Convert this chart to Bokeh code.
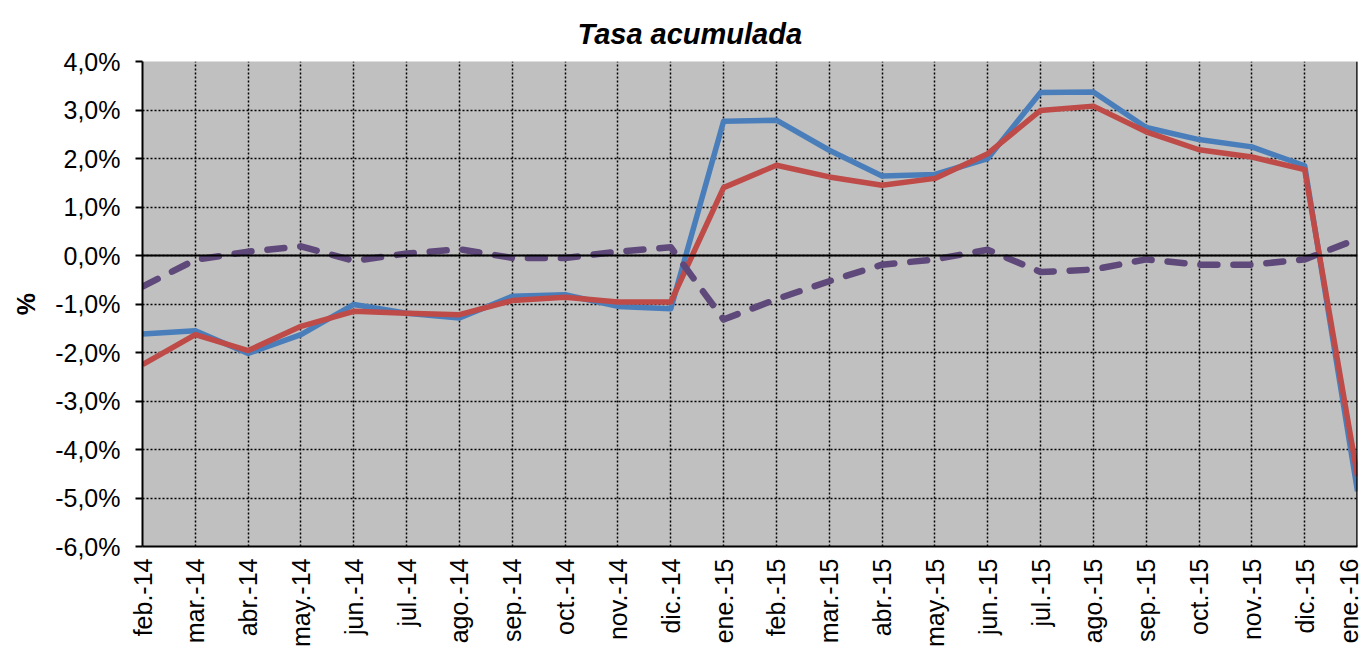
import math
from bokeh.plotting import figure
from bokeh.models import Range1d, FixedTicker, Span
from bokeh.embed import file_html
from bokeh.resources import INLINE

months = ["feb.-14", "mar.-14", "abr.-14", "may.-14", "jun.-14", "jul.-14",
          "ago.-14", "sep.-14", "oct.-14", "nov.-14", "dic.-14", "ene.-15",
          "feb.-15", "mar.-15", "abr.-15", "may.-15", "jun.-15", "jul.-15",
          "ago.-15", "sep.-15", "oct.-15", "nov.-15", "dic.-15", "ene.-16"]

serie_azul = [-1.62, -1.55, -2.02, -1.63, -1.01, -1.19, -1.29, -0.84, -0.81,
              -1.05, -1.10, 2.77, 2.79, 2.17, 1.64, 1.67, 2.00, 3.36, 3.37,
              2.64, 2.39, 2.24, 1.85, -4.86]
serie_roja = [-2.25, -1.63, -1.96, -1.46, -1.15, -1.19, -1.22, -0.93, -0.86,
              -0.96, -0.96, 1.40, 1.86, 1.62, 1.45, 1.59, 2.10, 2.99, 3.08,
              2.55, 2.18, 2.03, 1.77, -4.55]
serie_morada = [-0.64, -0.09, 0.08, 0.19, -0.11, 0.04, 0.13, -0.05, -0.05,
                0.08, 0.17, -1.32, -0.90, -0.53, -0.19, -0.08, 0.12, -0.34,
                -0.29, -0.08, -0.19, -0.19, -0.08, 0.34]

y_ticks = [-6, -5, -4, -3, -2, -1, 0, 1, 2, 3, 4]
y_tick_labels = ["-6,0%", "-5,0%", "-4,0%", "-3,0%", "-2,0%", "-1,0%",
                 "0,0%", "1,0%", "2,0%", "3,0%", "4,0%"]

FONT = "Liberation Sans"
xs = list(range(len(months)))

p = figure(width=1362, height=649, output_backend="svg", toolbar_location=None,
           x_range=Range1d(0, len(months) - 1), y_range=Range1d(-6, 4),
           min_border_left=142, min_border_right=5, min_border_top=61,
           min_border_bottom=103)

p.background_fill_color = "#C0C0C0"
p.border_fill_color = "white"
p.outline_line_color = None

p.title.text = "Tasa acumulada"
p.title.text_font = FONT
p.title.text_font_size = "29px"
p.title.text_font_style = "bold italic"
p.title.text_color = "black"
p.title.align = "left"
p.title.offset = 435
p.title.vertical_align = "top"
p.title.standoff = 20

# grids
p.xgrid.ticker = FixedTicker(ticks=xs)
p.ygrid.ticker = FixedTicker(ticks=y_ticks)
for g in (p.xgrid, p.ygrid):
    g.grid_line_color = "black"
    g.grid_line_dash = "2 2"
    g.grid_line_width = 1.5

# x axis
xa = p.xaxis[0]
xa.ticker = FixedTicker(ticks=xs)
xa.major_label_overrides = {i: m for i, m in enumerate(months)}
xa.major_label_orientation = math.pi / 2
xa.major_label_text_font = FONT
xa.major_label_text_font_size = "25px"
xa.major_label_text_color = "black"
xa.major_tick_out = 0
xa.major_tick_in = 0
xa.minor_tick_line_color = None
xa.axis_line_color = "black"
xa.axis_line_width = 2
xa.major_label_standoff = 12

# y axis
ya = p.yaxis[0]
ya.ticker = FixedTicker(ticks=y_ticks)
ya.major_label_overrides = {t: l for t, l in zip(y_ticks, y_tick_labels)}
ya.major_label_text_font = FONT
ya.major_label_text_font_size = "25px"
ya.major_label_text_color = "black"
ya.major_tick_out = 7
ya.major_tick_in = 0
ya.major_tick_line_color = "black"
ya.major_tick_line_width = 2
ya.minor_tick_line_color = None
ya.axis_line_color = "black"
ya.axis_line_width = 2
ya.major_label_standoff = 15
ya.axis_label = "%"
ya.axis_label_text_font = FONT
ya.axis_label_text_font_size = "25px"
ya.axis_label_text_font_style = "bold"
ya.axis_label_text_color = "black"
ya.axis_label_standoff = 12

# zero line and right border
p.add_layout(Span(location=0, dimension="width", line_color="black", line_width=2))
p.add_layout(Span(location=len(months) - 1, dimension="height", line_color="black", line_width=2.5))

p.line(xs, serie_azul, line_color="#4A7EBB", line_width=5.5, line_join="round")
p.line(xs, serie_roja, line_color="#BE4B48", line_width=5.5, line_join="round")
p.line(xs, serie_morada, line_color="#5F497A", line_width=6.5, line_dash="17 16",
       line_cap="round", line_join="round")

open("out.html", "w").write(file_html(p, INLINE))
